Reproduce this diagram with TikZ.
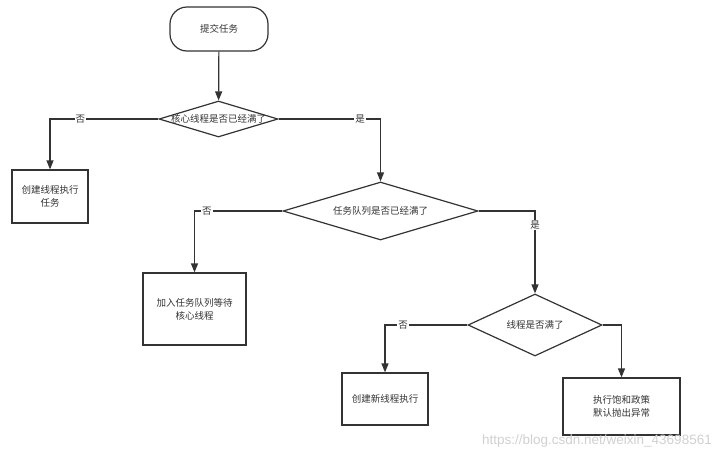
\documentclass[tikz,border=0pt]{standalone}
\usepackage{fontspec}
\newfontfamily\cjk{Noto Sans CJK SC}
\newfontfamily\wmfont{Liberation Sans}
\usetikzlibrary{arrows.meta,positioning,shapes.geometric}
\definecolor{Ink}{RGB}{51,51,51}
\definecolor{Mark}{RGB}{208,208,208}
\tikzset{
  >=Triangle,
  base/.style={draw=Ink,line width=1.2pt,fill=white,align=center,text=Ink,font=\cjk\fontsize{9.5}{13}\selectfont,inner sep=0pt},
  terminal/.style={base,rounded corners=17pt},
  process/.style={base},
  decision/.style={base,diamond},
  qtext/.style={text=Ink,font=\cjk\fontsize{9.5}{13}\selectfont,inner sep=0pt},
  yn/.style={fill=white,text=Ink,font=\cjk\fontsize{9.5}{11}\selectfont,inner sep=1pt},
  flow/.style={-{Triangle[length=9pt,width=7pt]},line width=1.2pt,draw=Ink}
}
\begin{document}
\begin{tikzpicture}[x=1pt,y=-1pt]
  \useasboundingbox (0,0) rectangle (718,461);
  \node[terminal,minimum width=98pt,minimum height=44pt] (submit) at (219,29) {提交任务};
  \node[decision,minimum width=119pt,minimum height=36pt] (core) at (218.5,119) {};
  \node[qtext] at (core) {核心线程是否已经满了};
  \node[process,minimum width=76pt,minimum height=53pt] (make) at (50,196.5) {创建线程执行\\任务};
  \node[decision,minimum width=195pt,minimum height=58pt] (queue) at (380.5,211) {};
  \node[qtext] at (queue) {任务队列是否已经满了};
  \node[process,minimum width=103pt,minimum height=72pt] (wait) at (194.5,309) {加入任务队列等待\\核心线程};
  \node[decision,minimum width=134pt,minimum height=62pt] (pool) at (535,325) {};
  \node[qtext] at (pool) {线程是否满了};
  \node[process,minimum width=86pt,minimum height=52pt] (newth) at (385,399) {创建新线程执行};
  \node[process,minimum width=117pt,minimum height=57pt] (reject) at (621.5,406.5) {执行饱和政策\\默认抛出异常};
  \draw[flow] (submit) -- (core);
  \draw[flow] (core.west) -| node[yn,pos=.36] {否} (make.north);
  \draw[flow] (core.east) -| node[yn,pos=.40] {是} (queue.north);
  \draw[flow] (queue.west) -| node[yn,pos=.43] {否} (wait.north);
  \draw[flow] (queue.east) -| node[yn,pos=.585] {是} (pool.north);
  \draw[flow] (pool.west) -| node[yn,pos=.39] {否} (newth.north);
  \draw[flow] (pool.east) -| (reject.north);
  \node[text=Mark,font=\wmfont\fontsize{13.5}{15}\selectfont,anchor=east,inner sep=0pt] (wmark) at (712,441) {https://blog.csdn.net/weixin\_43698561};
\end{tikzpicture}
\end{document}
